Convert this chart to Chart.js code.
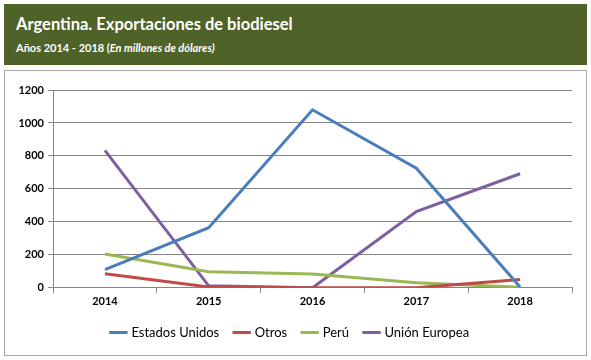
<!DOCTYPE html>
<html>
<head>
<meta charset="utf-8">
<style>
    body { margin: 0; background: #fff; font-family: Lato, "Open Sans", sans-serif; }
    .header { position: absolute; left: 4px; top: 4px; width: 583px; height: 61px; background: #4f6228; color: #fff; }
    .header h1 { position: absolute; left: 12px; top: 10px; margin: 0; font-size: 16.5px; font-weight: bold; }
    .header p { position: absolute; left: 12px; top: 37px; margin: 0; font-size: 11px; font-weight: bold; }
    .box { position: absolute; left: 4px; top: 70px; width: 581px; height: 284px; border: 1px solid #a6a6a6; }
</style>
</head>
<body>
<div class="header">
    <h1>Argentina. Exportaciones de biodiesel</h1>
    <p>Años 2014 - 2018 (<i>En millones de dólares)</i></p>
</div>
<div class="box">
    <canvas id="expChart" width="581" height="284"></canvas>
</div>

<script src="https://cdn.jsdelivr.net/npm/chart.js"></script>
<script>
const years = ["2014", "2015", "2016", "2017", "2018"];
const estadosUnidos = [110, 365, 1080, 725, 5];
const otros = [85, 5, 0, 0, 50];
const peru = [205, 97, 83, 30, 3];
const unionEuropea = [834, 12, 0, 463, 692];

const ctx = document.getElementById('expChart').getContext('2d');
new Chart(ctx, {
    type: 'line',
    data: {
        labels: years,
        datasets: [
            { label: 'Estados Unidos', data: estadosUnidos, borderColor: '#4a7ebb', backgroundColor: '#4a7ebb', borderWidth: 3 },
            { label: 'Otros', data: otros, borderColor: '#be4b48', backgroundColor: '#be4b48', borderWidth: 3 },
            { label: 'Perú', data: peru, borderColor: '#98b954', backgroundColor: '#98b954', borderWidth: 3 },
            { label: 'Unión Europea', data: unionEuropea, borderColor: '#7d60a0', backgroundColor: '#7d60a0', borderWidth: 3 }
        ]
    },
    options: {
        responsive: false,
        animation: false,
        elements: {
            line: { tension: 0 },
            point: { radius: 0 }
        },
        layout: { padding: { top: 19, right: 14, left: 4, bottom: 6 } },
        plugins: {
            tooltip: { enabled: false },
            legend: {
                position: 'bottom',
                labels: {
                    usePointStyle: true,
                    pointStyle: 'line',
                    boxWidth: 27,
                    padding: 16,
                    color: '#000',
                    font: { family: 'Lato, "Open Sans", sans-serif', size: 13 }
                }
            }
        },
        scales: {
            x: {
                offset: true,
                grid: { offset: true, drawOnChartArea: false, drawTicks: true, tickLength: 5, color: '#868686' },
                border: { color: '#868686' },
                ticks: { color: '#000', font: { family: 'Lato, "Open Sans", sans-serif', size: 11, weight: 'bold' }, padding: 2 }
            },
            y: {
                min: 0,
                max: 1200,
                afterFit: axis => { axis.width = 44; },
                grid: { color: '#868686', tickLength: 5 },
                border: { color: '#868686' },
                ticks: {
                    stepSize: 200,
                    color: '#000',
                    font: { family: 'Lato, "Open Sans", sans-serif', size: 11, weight: 'bold' },
                    padding: 4,
                    callback: v => String(v)
                }
            }
        }
    }
});
</script>
</body>
</html>
